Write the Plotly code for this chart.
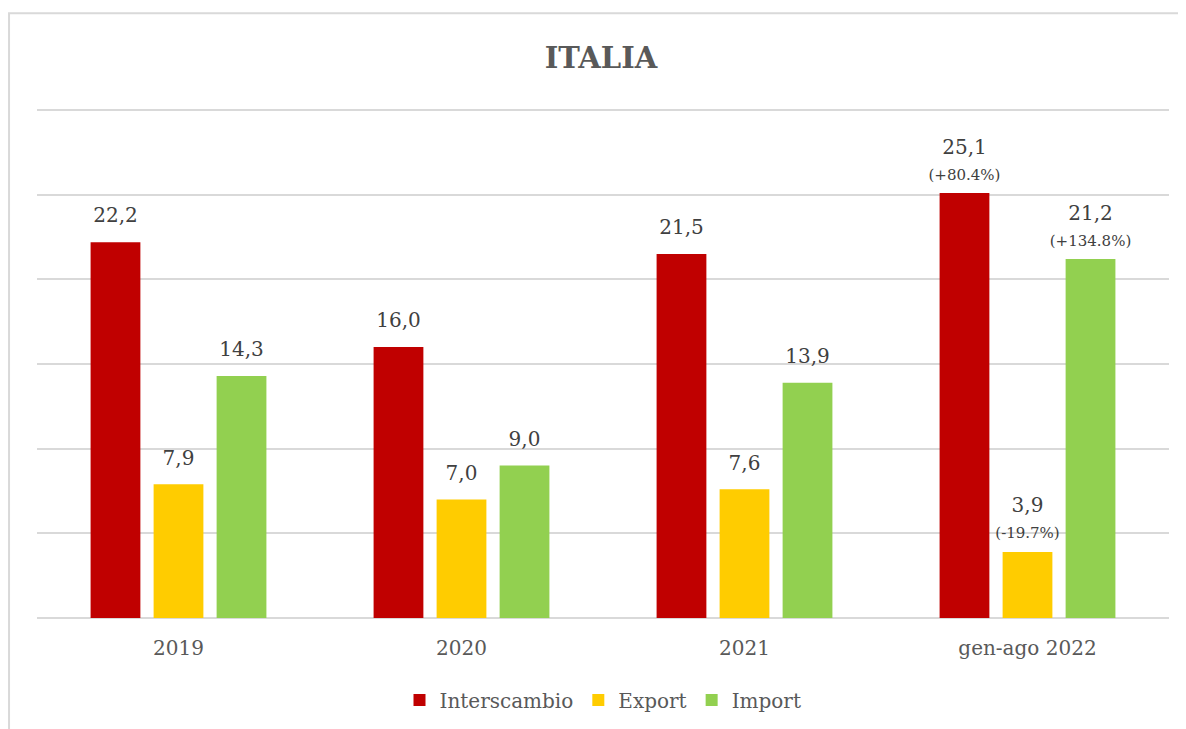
import plotly.graph_objects as go

categories = ["2019", "2020", "2021", "gen-ago 2022"]
interscambio = [22.2, 16.0, 21.5, 25.1]
export = [7.9, 7.0, 7.6, 3.9]
import_ = [14.3, 9.0, 13.9, 21.2]
var_interscambio = ["", "", "", "+80.4%"]
var_export = ["", "", "", "-19.7%"]
var_import = ["", "", "", "+134.8%"]

FONT = "DejaVu Serif"


def labels(values, notes):
    out = []
    for v, n in zip(values, notes):
        s = f"{v:.1f}".replace(".", ",")
        if n:
            s += f"<br><span style='font-size:15px'>({n})</span>"
        out.append(s)
    return out


series = [
    ("Interscambio", interscambio, var_interscambio, "#C00000"),
    ("Export", export, var_export, "#FFCC00"),
    ("Import", import_, var_import, "#92D050"),
]

fig = go.Figure()
for name, vals, notes, color in series:
    fig.add_trace(go.Bar(
        name=name, x=categories, y=vals, offsetgroup=name,
        marker=dict(color=color, line=dict(width=0)),
        hoverinfo="skip",
    ))
# value labels, grouped like the bars so they sit above each one
# (invisible markers just set the gap between label and bar top)
for name, vals, notes, color in series:
    fig.add_trace(go.Scatter(
        x=categories, y=vals, offsetgroup=name, mode="markers+text",
        marker=dict(size=[12 if n else 22 for n in notes], opacity=0),
        text=labels(vals, notes), textposition="top center",
        textfont=dict(family=FONT, size=20, color="#404040"),
        cliponaxis=False, showlegend=False, hoverinfo="skip",
    ))

fig.update_layout(
    width=1186, height=729,
    margin=dict(l=29, r=25, t=97, b=119),
    paper_bgcolor="white", plot_bgcolor="white",
    barmode="group", bargap=0.332, bargroupgap=0.21,
    scattermode="group", scattergap=0.332,
    title=dict(text="<b>ITALIA</b>", x=0.5, xanchor="center", y=0.932, yanchor="middle",
               font=dict(family=FONT, size=29, color="#595959")),
    font=dict(family=FONT, color="#595959"),
    legend=dict(orientation="h", x=0.5, xanchor="center", y=-0.160, yanchor="middle",
                font=dict(family=FONT, size=20, color="#595959"), traceorder="normal",
                itemwidth=30),
    shapes=[dict(type="rect", xref="paper", yref="paper",
                 x0=-0.0247, x1=1.1, y0=-0.5, y1=1.179,
                 line=dict(color="#d9d9d9", width=2), layer="below")],
)
fig.update_xaxes(showgrid=False, ticks="", ticklabelstandoff=16,
                 tickfont=dict(family=FONT, size=20, color="#595959"), showline=False)
fig.update_yaxes(range=[0, 30.3], dtick=5, showticklabels=False, gridcolor="#d9d9d9",
                 gridwidth=1.5, zeroline=True, zerolinecolor="#d9d9d9", zerolinewidth=2)

fig.write_html("out.html")
